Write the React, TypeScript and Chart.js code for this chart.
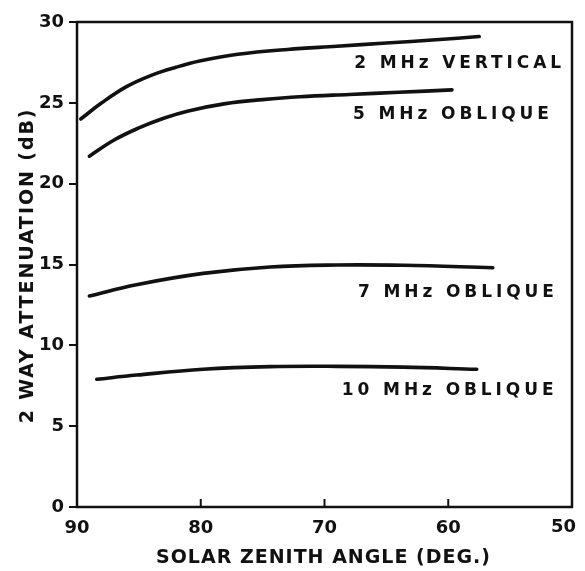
import React, { useEffect, useRef } from "react";
import { Chart, registerables } from "chart.js";

Chart.register(...registerables);

// Solar zenith angle (deg) and 2-way attenuation (dB) per curve
const angles2Vert = [89.7, 88.0, 86.0, 84.0, 82.0, 80.0, 77.0, 73.0, 69.0, 65.0, 61.0, 57.5];
const values2Vert = [24.0, 25.0, 26.0, 26.7, 27.2, 27.6, 28.0, 28.3, 28.5, 28.7, 28.9, 29.1];

const angles5Obl = [89.0, 87.0, 85.0, 83.0, 81.0, 78.0, 75.0, 72.0, 68.0, 64.0, 59.7];
const values5Obl = [21.7, 22.7, 23.45, 24.05, 24.5, 24.95, 25.2, 25.38, 25.52, 25.65, 25.8];

const angles7Obl = [89.0, 85.2, 79.8, 74.4, 69.0, 63.6, 56.4];
const values7Obl = [13.05, 13.75, 14.45, 14.85, 14.97, 14.95, 14.8];

const angles10Obl = [88.4, 85.2, 79.8, 74.4, 69.0, 63.6, 57.7];
const values10Obl = [7.9, 8.16, 8.52, 8.68, 8.7, 8.65, 8.52];

const curveLabels = ["2 MHz VERTICAL", "5 MHz OBLIQUE", "7 MHz OBLIQUE", "10 MHz OBLIQUE"];
const labelAngles = [67.6, 67.7, 67.3, 68.6];
const labelValues = [27.4, 24.25, 13.25, 7.2];

const xTicks = [90, 80, 70, 60, 50];
const yTicks = [0, 5, 10, 15, 20, 25, 30];

const xTitle = "SOLAR ZENITH ANGLE (DEG.)";
const yTitle = "2 WAY ATTENUATION (dB)";

const FONT = "'DejaVu Sans', sans-serif";
const INK = "#111";
const W = 569;
const H = 560;

const toPoints = (xs: number[], ys: number[]) => xs.map((x, i) => ({ x, y: ys[i] }));

const zeroPad = (s: any) => {
  s.paddingLeft = 0;
  s.paddingRight = 0;
  s.paddingTop = 0;
  s.paddingBottom = 0;
};

export default function App() {
  const ref = useRef<HTMLCanvasElement | null>(null);

  useEffect(() => {
    if (!ref.current) return;
    const mk = (xs: number[], ys: number[]) => ({
      data: toPoints(xs, ys),
      borderColor: INK,
      borderWidth: 3.6,
      pointRadius: 0,
      fill: false,
      tension: 0.4,
      borderCapStyle: "round" as const,
    });

    const lastTick = xTicks[xTicks.length - 1];

    const decor = {
      id: "decor",
      afterDraw(chart: any) {
        const { ctx, chartArea, scales } = chart;
        const xs = scales.x;
        const ys = scales.y;
        ctx.save();
        ctx.strokeStyle = INK;
        ctx.lineWidth = 2.5;
        ctx.strokeRect(chartArea.left, chartArea.top, chartArea.right - chartArea.left, chartArea.bottom - chartArea.top);
        // inward x ticks
        ctx.lineWidth = 2;
        xTicks.forEach((t) => {
          if (t === 90 || t === 50) return;
          const px = xs.getPixelForValue(t);
          ctx.beginPath();
          ctx.moveTo(px, chartArea.bottom);
          ctx.lineTo(px, chartArea.bottom - 8);
          ctx.stroke();
        });
        ctx.fillStyle = INK;
        // last x tick label, kept inside the canvas edge
        ctx.font = `bold 18px ${FONT}`;
        ctx.textAlign = "right";
        ctx.textBaseline = "top";
        ctx.fillText(String(lastTick), chart.width - 1, xs.top + 11);
        // curve labels
        ctx.font = `bold 17px ${FONT}`;
        (ctx as any).letterSpacing = "3.9px";
        ctx.textAlign = "left";
        ctx.textBaseline = "middle";
        curveLabels.forEach((txt, i) => {
          ctx.fillText(txt, xs.getPixelForValue(labelAngles[i]), ys.getPixelForValue(labelValues[i]));
        });
        // axis titles
        ctx.font = `bold 19px ${FONT}`;
        (ctx as any).letterSpacing = "1.0px";
        ctx.textAlign = "center";
        ctx.fillText(xTitle, (chartArea.left + chartArea.right) / 2 - 1, chart.height - 10);
        (ctx as any).letterSpacing = "1.9px";
        ctx.translate(20, (chartArea.top + chartArea.bottom) / 2 + 1);
        ctx.rotate(-Math.PI / 2);
        ctx.fillText(yTitle, 0, 0);
        ctx.restore();
        (ctx as any).letterSpacing = "0px";
      },
    };

    const chart = new Chart(ref.current, {
      type: "line",
      data: {
        datasets: [
          mk(angles2Vert, values2Vert),
          mk(angles5Obl, values5Obl),
          mk(angles7Obl, values7Obl),
          mk(angles10Obl, values10Obl),
        ],
      },
      options: {
        animation: false,
        responsive: false,
        maintainAspectRatio: false,
        layout: { padding: { top: 14, right: 5, left: 0, bottom: 0 } },
        plugins: { legend: { display: false }, tooltip: { enabled: false } },
        scales: {
          x: {
            type: "linear",
            reverse: true,
            min: 50,
            max: 90,
            afterFit: (s: any) => {
              s.height = 61;
              zeroPad(s);
            },
            afterBuildTicks: (s: any) => {
              s.ticks = xTicks.map((v) => ({ value: v }));
            },
            ticks: {
              color: INK,
              padding: 11,
              font: { family: FONT, size: 18, weight: "bold" },
              callback: (v: any) => (v === lastTick ? "" : String(v)),
            },
            grid: { display: false, drawTicks: false },
            border: { display: false },
          },
          y: {
            type: "linear",
            min: 0,
            max: 30,
            afterFit: (s: any) => {
              s.width = 69;
              zeroPad(s);
            },
            afterBuildTicks: (s: any) => {
              s.ticks = yTicks.map((v) => ({ value: v }));
            },
            ticks: { color: INK, padding: 5, font: { family: FONT, size: 18, weight: "bold" } },
            grid: { drawOnChartArea: false, drawTicks: true, tickLength: 8, color: INK, lineWidth: 2 },
            border: { display: false },
          },
        },
      },
      plugins: [decor],
    });
    return () => chart.destroy();
  }, []);

  return (
    <div style={{ width: W, height: H }}>
      <canvas ref={ref} width={W} height={H} style={{ display: "block", width: W, height: H }} />
    </div>
  );
}
